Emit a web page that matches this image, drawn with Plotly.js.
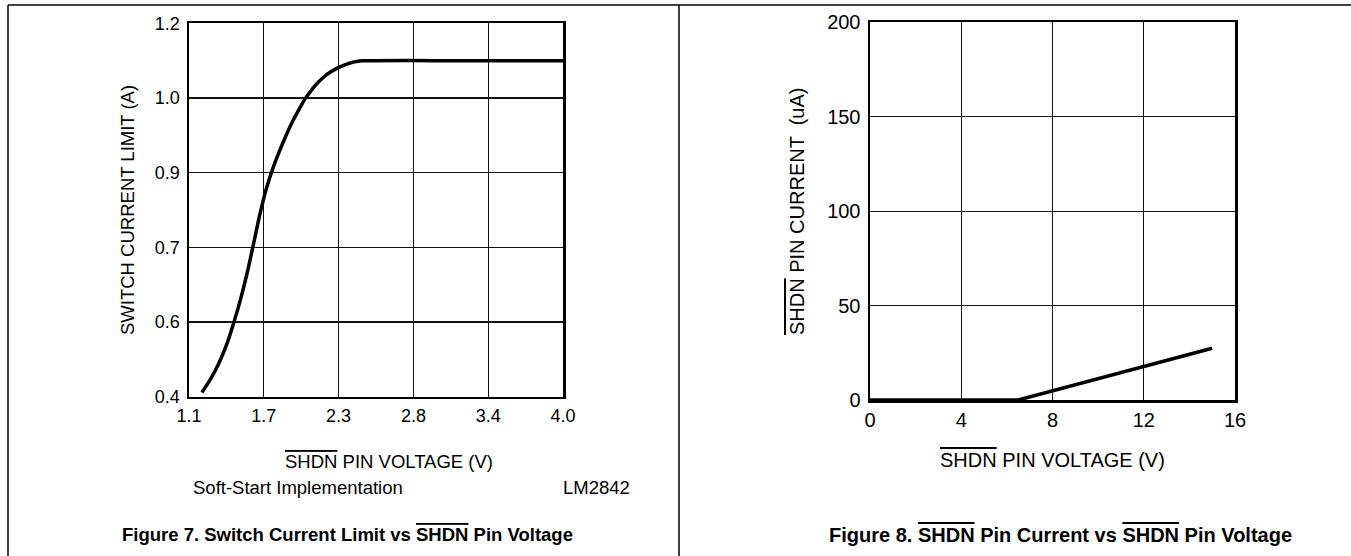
<!DOCTYPE html>
<html>
<head>
<meta charset="utf-8">
<script src="https://cdn.plot.ly/plotly-3.0.1.min.js"></script>
<style>html,body{margin:0;padding:0;background:#fff;}#chart{width:1351px;height:556px;}</style>
</head>
<body>
<div id="chart"></div>
<script>
// Figure 7: Switch current limit vs SHDN pin voltage
const fig7Voltage = [1.20, 1.25, 1.30, 1.35, 1.40, 1.45, 1.50, 1.55, 1.60, 1.65, 1.70, 1.75, 1.80, 1.85, 1.90, 1.95, 2.00, 2.05, 2.10, 2.15, 2.20, 2.25, 2.30, 2.35, 2.40, 2.45, 2.50, 3.00, 3.50, 4.00];
const fig7Current = [0.409, 0.430, 0.454, 0.483, 0.518, 0.561, 0.609, 0.664, 0.727, 0.791, 0.846, 0.889, 0.925, 0.958, 0.988, 1.014, 1.038, 1.057, 1.073, 1.086, 1.096, 1.104, 1.110, 1.115, 1.118, 1.1195, 1.120, 1.120, 1.120, 1.120];
const fig7XTickVals = [1.1, 1.68, 2.26, 2.84, 3.42, 4.0];
const fig7XTickText = ['1.1', '1.7', '2.3', '2.8', '3.4', '4.0'];
const fig7YTickVals = [0.4, 0.56, 0.72, 0.88, 1.04, 1.2];
const fig7YTickText = ['0.4', '0.6', '0.7', '0.9', '1.0', '1.2'];

// Figure 8: SHDN pin current vs SHDN pin voltage
const fig8Voltage = [0, 6.5, 15];
const fig8Current = [0, 0, 27.4];
const fig8XTickVals = [0, 4, 8, 12, 16];
const fig8YTickVals = [0, 50, 100, 150, 200];

const FONT = 'Liberation Sans, Arial, Helvetica, sans-serif';
const OL = s => '<span style="text-decoration:overline">' + s + '</span>';
const W = 1351, H = 556;

const traces = [
  {x: fig7Voltage, y: fig7Current, xaxis: 'x', yaxis: 'y', mode: 'lines',
   line: {color: '#000', width: 3.5, shape: 'spline', smoothing: 1}, cliponaxis: false, hoverinfo: 'skip'},
  {x: fig8Voltage, y: fig8Current, xaxis: 'x2', yaxis: 'y2', mode: 'lines',
   line: {color: '#000', width: 3.5}, cliponaxis: false, hoverinfo: 'skip'}
];

function axis(extra, size) {
  return Object.assign({
    showgrid: true, gridcolor: '#111', gridwidth: 1.2,
    showline: true, linecolor: '#000', linewidth: 2.5, mirror: true,
    zeroline: false, ticks: '', fixedrange: true,
    tickfont: {family: FONT, size: size, color: '#000'},
    tickmode: 'array'
  }, extra);
}

const layout = {
  width: W, height: H,
  margin: {l: 0, r: 0, t: 0, b: 0},
  paper_bgcolor: '#fff', plot_bgcolor: '#fff',
  showlegend: false,
  font: {family: FONT, color: '#000'},
  xaxis: axis({domain: [189 / W, 563 / W], range: [1.1, 4.0], tickvals: fig7XTickVals, ticktext: fig7XTickText, anchor: 'y', ticklabelstandoff: 1}, 18),
  yaxis: axis({domain: [(H - 396.7) / H, (H - 23.3) / H], range: [0.4, 1.2], tickvals: fig7YTickVals, ticktext: fig7YTickText, anchor: 'x', ticklabelstandoff: 3}, 18),
  xaxis2: axis({domain: [870 / W, 1235 / W], range: [0, 16], tickvals: fig8XTickVals, anchor: 'y2', ticklabelstandoff: 0}, 20),
  yaxis2: axis({domain: [(H - 400) / H, (H - 22.3) / H], range: [0, 200], tickvals: fig8YTickVals, anchor: 'x2', ticklabelstandoff: 3}, 20),
  shapes: [
    {type: 'line', xref: 'paper', yref: 'paper', x0: 8 / W, x1: 1, y0: 1 - 5 / H, y1: 1 - 5 / H, line: {color: '#000', width: 1.5}},
    {type: 'line', xref: 'paper', yref: 'paper', x0: 8 / W, x1: 8 / W, y0: 0, y1: 1 - 5 / H, line: {color: '#000', width: 1.5}},
    {type: 'line', xref: 'paper', yref: 'paper', x0: 679 / W, x1: 679 / W, y0: 0, y1: 1 - 5 / H, line: {color: '#000', width: 1.5}}
  ],
  annotations: [
    {xref: 'paper', yref: 'paper', x: 127 / W, y: 1 - 210 / H, text: 'SWITCH CURRENT LIMIT (A)', textangle: -90, showarrow: false, font: {size: 18.5}, xanchor: 'center', yanchor: 'middle'},
    {xref: 'paper', yref: 'paper', x: 389 / W, y: 1 - 461 / H, text: OL('SHDN') + ' PIN VOLTAGE (V)', showarrow: false, font: {size: 18.5}, xanchor: 'center', yanchor: 'middle'},
    {xref: 'paper', yref: 'paper', x: 298 / W, y: 1 - 487 / H, text: 'Soft-Start Implementation', showarrow: false, font: {size: 18.5}, xanchor: 'center', yanchor: 'middle'},
    {xref: 'paper', yref: 'paper', x: 596 / W, y: 1 - 487 / H, text: 'LM2842', showarrow: false, font: {size: 18.5}, xanchor: 'center', yanchor: 'middle'},
    {xref: 'paper', yref: 'paper', x: 347 / W, y: 1 - 534 / H, text: '<b>Figure 7. Switch Current Limit vs ' + OL('SHDN') + ' Pin Voltage</b>', showarrow: false, font: {size: 18.5}, xanchor: 'center', yanchor: 'middle'},
    {xref: 'paper', yref: 'paper', x: 797 / W, y: 1 - 212 / H, text: OL('SHDN') + ' PIN CURRENT \u00a0(uA)', textangle: -90, showarrow: false, font: {size: 20}, xanchor: 'center', yanchor: 'middle'},
    {xref: 'paper', yref: 'paper', x: 1052 / W, y: 1 - 460 / H, text: OL('SHDN') + ' PIN VOLTAGE (V)', showarrow: false, font: {size: 20}, xanchor: 'center', yanchor: 'middle'},
    {xref: 'paper', yref: 'paper', x: 1060 / W, y: 1 - 535 / H, text: '<b>Figure 8. ' + OL('SHDN') + ' Pin Current vs ' + OL('SHDN') + ' Pin Voltage</b>', showarrow: false, font: {size: 20}, xanchor: 'center', yanchor: 'middle'}
  ]
};

Plotly.newPlot('chart', traces, layout, {displayModeBar: false, staticPlot: true});
</script>
</body>
</html>
